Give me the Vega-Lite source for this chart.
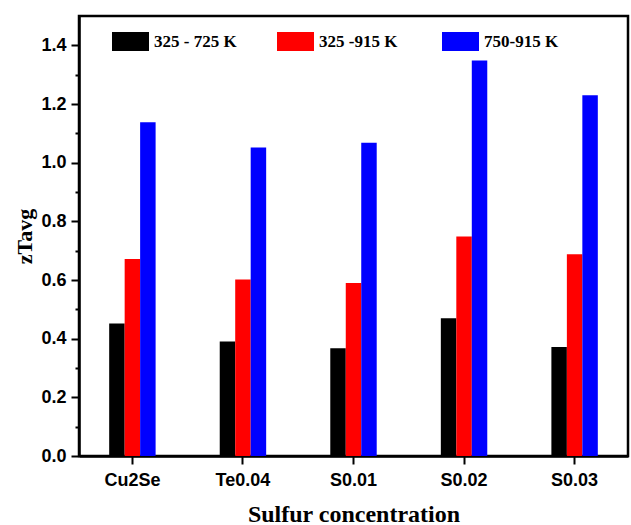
{
  "$schema": "https://vega.github.io/schema/vega-lite/v6.json",
  "width": 549,
  "height": 440,
  "autosize": {"type": "none"},
  "padding": {"left": 79, "top": 16, "right": 3, "bottom": 69},
  "background": "white",
  "config": {
    "view": {"stroke": "black", "strokeWidth": 2.5},
    "axis": {
      "domainColor": "black",
      "domainWidth": 2.5,
      "tickColor": "black",
      "tickWidth": 2,
      "grid": false,
      "labelColor": "black",
      "titleColor": "black"
    }
  },
  "data": {
    "values": [
      {"sample": "Cu2Se", "range": "325 - 725 K", "zT": 0.452},
      {"sample": "Cu2Se", "range": "325 -915 K", "zT": 0.672},
      {"sample": "Cu2Se", "range": "750-915 K", "zT": 1.138},
      {"sample": "Te0.04", "range": "325 - 725 K", "zT": 0.39},
      {"sample": "Te0.04", "range": "325 -915 K", "zT": 0.602},
      {"sample": "Te0.04", "range": "750-915 K", "zT": 1.052},
      {"sample": "S0.01", "range": "325 - 725 K", "zT": 0.367},
      {"sample": "S0.01", "range": "325 -915 K", "zT": 0.59},
      {"sample": "S0.01", "range": "750-915 K", "zT": 1.068},
      {"sample": "S0.02", "range": "325 - 725 K", "zT": 0.47},
      {"sample": "S0.02", "range": "325 -915 K", "zT": 0.748},
      {"sample": "S0.02", "range": "750-915 K", "zT": 1.348},
      {"sample": "S0.03", "range": "325 - 725 K", "zT": 0.372},
      {"sample": "S0.03", "range": "325 -915 K", "zT": 0.688},
      {"sample": "S0.03", "range": "750-915 K", "zT": 1.23}
    ]
  },
  "mark": {"type": "bar"},
  "encoding": {
    "x": {
      "field": "sample",
      "type": "nominal",
      "sort": ["Cu2Se", "Te0.04", "S0.01", "S0.02", "S0.03"],
      "scale": {"paddingInner": 0.58, "paddingOuter": 0.273},
      "axis": {
        "title": "Sulfur concentration",
        "titleFont": "Liberation Serif",
        "titleFontSize": 24,
        "titleFontWeight": "bold",
        "titlePadding": 13,
        "labelFont": "Liberation Sans",
        "labelFontSize": 18,
        "labelFontWeight": "bold",
        "labelAngle": 0,
        "labelPadding": 7,
        "tickSize": 8
      }
    },
    "xOffset": {
      "field": "range",
      "type": "nominal",
      "sort": ["325 - 725 K", "325 -915 K", "750-915 K"],
      "scale": {"paddingInner": 0, "paddingOuter": 0}
    },
    "y": {
      "field": "zT",
      "type": "quantitative",
      "scale": {"domain": [0, 1.5], "nice": false},
      "axis": {
        "title": "zTavg",
        "titleFont": "Liberation Serif",
        "titleFontSize": 22,
        "titleFontWeight": "bold",
        "titlePadding": 4,
        "values": [0, 0.1, 0.2, 0.3, 0.4, 0.5, 0.6, 0.7, 0.8, 0.9, 1.0, 1.1, 1.2, 1.3, 1.4],
        "labelExpr": "(round(datum.value*10) % 2 == 0) ? format(datum.value, '.1f') : ''",
        "labelFont": "Liberation Sans",
        "labelFontSize": 18,
        "labelFontWeight": "bold",
        "labelPadding": 5,
        "tickSize": {"condition": {"test": "round(datum.value*10) % 2 == 0", "value": 8}, "value": 4}
      }
    },
    "color": {
      "field": "range",
      "type": "nominal",
      "sort": ["325 - 725 K", "325 -915 K", "750-915 K"],
      "scale": {"domain": ["325 - 725 K", "325 -915 K", "750-915 K"], "range": ["#000000", "#ff0000", "#0000ff"]},
      "legend": {
        "title": null,
        "orient": "none",
        "legendX": 33,
        "legendY": 7,
        "direction": "horizontal",
        "gridAlign": "all",
        "columnPadding": 40,
        "symbolType": "M-1,-0.51H1V0.51H-1Z",
        "symbolSize": 1369,
        "symbolStrokeWidth": 0,
        "labelFont": "Liberation Serif",
        "labelFontSize": 17,
        "labelFontWeight": "bold",
        "labelColor": "black",
        "labelOffset": 5
      }
    }
  }
}
